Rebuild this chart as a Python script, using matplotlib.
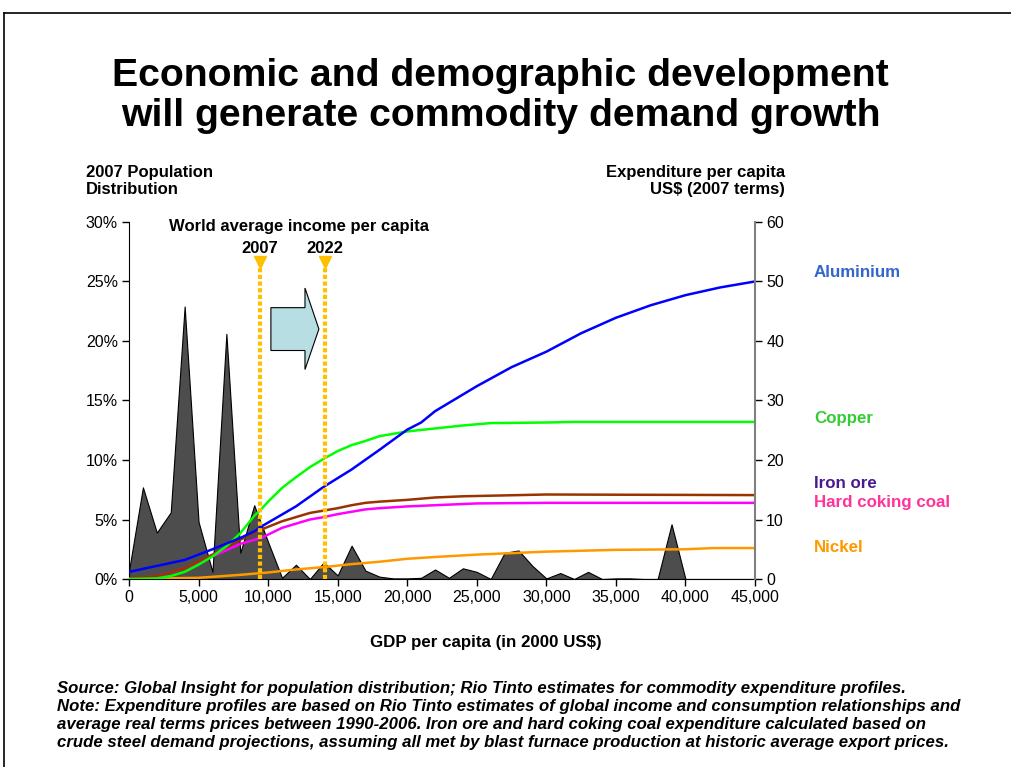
import numpy as np
import matplotlib
matplotlib.use('Agg')
import matplotlib.pyplot as plt
from matplotlib.patches import Polygon
from matplotlib.lines import Line2D

plt.rcParams['font.family'] = ['Liberation Sans', 'DejaVu Sans']

# 2007 population distribution (% of world population per $1,000 GDP band)
pop_gdp = np.arange(0, 46000, 1000)
pop_share = [0.7, 7.7, 3.9, 5.6, 22.9, 4.8, 0.6, 20.6, 2.2, 6.2,
             3.1, 0.1, 1.2, 0.0, 1.4, 0.3, 2.8, 0.7, 0.2, 0.05,
             0.05, 0.1, 0.8, 0.1, 0.9, 0.6, 0.0, 2.2, 2.4, 1.1,
             0.05, 0.5, 0.0, 0.6, 0.0, 0.05, 0.05, 0.0, 0.0, 4.6,
             0.0, 0.0, 0.0, 0.0, 0.0, 0.0]

# expenditure per capita, US$ (2007 terms)
alu_x = [0, 2000, 4000, 6000, 8000, 9000, 9500, 12000, 14000, 16000, 18000, 20000,
         21000, 22000, 23000, 24000, 25000, 27500, 30000, 32500, 35000, 37500,
         40000, 42500, 45000]
alu_y = [1.2, 2.2, 3.2, 5.0, 6.9, 8.0, 8.8, 12.2, 15.5, 18.4, 21.7, 25.1,
         26.3, 28.2, 29.6, 31.0, 32.4, 35.6, 38.2, 41.3, 43.9, 46.0,
         47.7, 49.0, 50.0]

cu_x = [0, 2000, 3000, 4000, 5000, 6000, 7000, 8000, 9000, 9500, 10000, 11000,
        12000, 13000, 14000, 15000, 16000, 17000, 18000, 19000, 20000, 22000,
        24000, 26000, 30000, 32000, 45000]
cu_y = [0.0, 0.1, 0.5, 1.2, 2.4, 3.8, 5.5, 7.7, 10.6, 11.7, 13.0, 15.3,
        17.1, 18.8, 20.2, 21.5, 22.5, 23.2, 24.0, 24.4, 24.8, 25.3,
        25.8, 26.2, 26.3, 26.4, 26.4]

fe_x = [0, 2000, 4000, 6000, 8000, 9500, 11000, 12000, 13000, 14000, 15000, 16000,
        17000, 18000, 20000, 22000, 24000, 26000, 30000, 45000]
fe_y = [0.1, 0.5, 1.8, 4.1, 6.6, 8.3, 9.7, 10.4, 11.1, 11.5, 11.9, 12.4,
        12.8, 13.0, 13.3, 13.7, 13.9, 14.0, 14.2, 14.1]

coal_x = [0, 2000, 4000, 6000, 8000, 9500, 11000, 12000, 13000, 14000, 15000, 16000,
          17000, 18000, 20000, 22000, 25000, 30000, 45000]
coal_y = [0.0, 0.5, 1.8, 3.8, 5.9, 6.9, 8.6, 9.3, 10.0, 10.4, 10.9, 11.3,
          11.7, 11.9, 12.2, 12.4, 12.7, 12.8, 12.8]

ni_x = [0, 5000, 8000, 10000, 12000, 14000, 16000, 18000, 20000, 22000, 25000,
        28000, 30000, 35000, 40000, 42000, 45000]
ni_y = [0.0, 0.2, 0.7, 1.1, 1.6, 2.0, 2.5, 2.9, 3.4, 3.7, 4.1,
        4.4, 4.6, 4.9, 5.0, 5.2, 5.2]

world_avg_x = [9400, 14100]
world_avg_lbl = ['2007', '2022']

fig = plt.figure(figsize=(10.11, 7.67), dpi=100)
ax = fig.add_axes([0.1276, 0.2451, 0.6192, 0.4655])

ax.fill_between(pop_gdp, pop_share, 0, facecolor='#4D4D4D', edgecolor='black', linewidth=0.8)
ax.set_xlim(0, 45000)
ax.set_ylim(0, 30)
ax.set_xticks(np.arange(0, 45001, 5000))
ax.set_xticklabels(['{:,}'.format(v) for v in range(0, 45001, 5000)])
ax.set_yticks(np.arange(0, 31, 5))
ax.set_yticklabels(['%d%%' % v for v in range(0, 31, 5)])
ax.tick_params(labelsize=11.5, length=5, width=1, direction='out', pad=3)
for s in ['top', 'right']:
    ax.spines[s].set_visible(False)
ax.spines['left'].set_color('black')
ax.spines['bottom'].set_color('black')

# arrow between the two markers (x in GDP, y in %)
ax_l, ax_m, ax_r = 10200, 12650, 13650
ax_b0, ax_b1, ax_h0, ax_h1 = 19.2, 22.8, 17.6, 24.45
arrow = Polygon([[ax_l, ax_b0], [ax_l, ax_b1], [ax_m, ax_b1], [ax_m, ax_h1],
                 [ax_r, (ax_b0 + ax_b1) / 2], [ax_m, ax_h0], [ax_m, ax_b0]],
                closed=True, facecolor='#B7DEE3', edgecolor='black', linewidth=0.8, zorder=5)
ax.add_patch(arrow)

ax2 = ax.twinx()
ax2.set_ylim(0, 60)
ax2.set_yticks(np.arange(0, 61, 10))
ax2.tick_params(labelsize=11.5, length=5, width=1, direction='out', pad=3)
for s in ['top', 'left', 'bottom']:
    ax2.spines[s].set_visible(False)
ax2.spines['right'].set_color('#808080')
ax2.spines['right'].set_linewidth(1.5)

lw = 1.8
ax2.plot(ni_x, ni_y, color='#FF9900', lw=lw)
ax2.plot(coal_x, coal_y, color='#FF00FF', lw=lw)
ax2.plot(fe_x, fe_y, color='#993300', lw=lw)
ax2.plot(cu_x, cu_y, color='#00FF00', lw=lw)
ax2.plot(alu_x, alu_y, color='#0000FF', lw=lw)

# world average income markers
for xv, lbl in zip(world_avg_x, world_avg_lbl):
    ax2.plot([xv, xv], [0, 53.2], color='#FFC000', lw=3, linestyle=(0, (1, 0.6)), zorder=6)
    ax2.plot([xv], [53.2], marker='v', markersize=9, color='#FFC000', zorder=7)
    ax2.text(xv, 54.3, lbl, ha='center', va='bottom', fontsize=12, fontweight='bold')
ax2.text(12200, 58.0, 'World average income per capita', ha='center', va='bottom',
         fontsize=12, fontweight='bold')

fig.text(0.495, 1 - 96 / 767, 'Economic and demographic development\nwill generate commodity demand growth',
         ha='center', va='center', fontsize=28.3, fontweight='bold', linespacing=1.17)

fig.text(86 / 1011, 1 - 181 / 767, '2007 Population\nDistribution', ha='left', va='center',
         fontsize=12, fontweight='bold', linespacing=1.1)
fig.text(785 / 1011, 1 - 181 / 767, 'Expenditure per capita\nUS$ (2007 terms)', ha='right', va='center',
         fontsize=12, fontweight='bold', linespacing=1.1)

series_lbl = [('Aluminium', '#3366CC', 273), ('Copper', '#33CC33', 418), ('Iron ore', '#4B1A8C', 483),
              ('Hard coking coal', '#FF3399', 503), ('Nickel', '#FF9900', 548)]
for name, col, py in series_lbl:
    fig.text(814 / 1011, 1 - py / 767, name, color=col, ha='left', va='center',
             fontsize=12.2, fontweight='bold')

fig.text(486 / 1011, 1 - 643 / 767, 'GDP per capita (in 2000 US$)', ha='center', va='center',
         fontsize=12.2, fontweight='bold')

notes = ['Source: Global Insight for population distribution; Rio Tinto estimates for commodity expenditure profiles.',
         'Note: Expenditure profiles are based on Rio Tinto estimates of global income and consumption relationships and',
         'average real terms prices between 1990-2006. Iron ore and hard coking coal expenditure calculated based on',
         'crude steel demand projections, assuming all met by blast furnace production at historic average export prices.']
for i, line in enumerate(notes):
    fig.text(57 / 1011, 1 - (688 + 18 * i) / 767, line, ha='left', va='center',
             fontsize=12.1, fontweight='bold', fontstyle='italic')

# slide frame
fig.add_artist(Line2D([4 / 1011, 1], [1 - 13 / 767, 1 - 13 / 767], color='black', lw=1.2))
fig.add_artist(Line2D([4 / 1011, 4 / 1011], [0, 1 - 13 / 767], color='black', lw=1.2))

fig.savefig('out.png', dpi=100)
